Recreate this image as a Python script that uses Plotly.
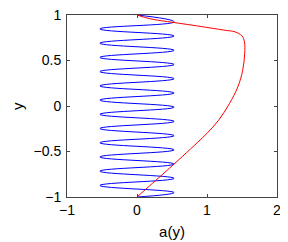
import plotly.graph_objects as go

# Blue oscillating curve (read at its extremes)
blue_y = [1.0, 0.925, 0.847, 0.769, 0.690, 0.612, 0.534, 0.456, 0.378, 0.300, 0.221,
          0.143, 0.065, -0.013, -0.091, -0.169, -0.247, -0.326, -0.404, -0.482,
          -0.560, -0.638, -0.716, -0.795, -0.873, -0.951, -1.0]
blue_x = [0.0, 0.53, -0.53, 0.53, -0.53, 0.53, -0.53, 0.53, -0.53, 0.53, -0.53,
          0.53, -0.53, 0.53, -0.53, 0.53, -0.53, 0.53, -0.53, 0.53,
          -0.53, 0.53, -0.53, 0.53, -0.53, 0.53, 0.0]

# Red curve
red_y = [-1.0, -0.85, -0.70, -0.55, -0.40, -0.30, -0.157, 0.026, 0.209, 0.392,
         0.576, 0.705, 0.770, 0.815, 0.832, 0.887, 0.918, 0.959, 1.0]
red_x = [0.0, 0.22, 0.44, 0.655, 0.865, 1.0, 1.165, 1.32, 1.44, 1.51,
         1.538, 1.535, 1.50, 1.40, 1.26, 0.80, 0.52, 0.185, 0.0]

x_ticks = [-1, 0, 1, 2]
y_ticks = [-1, -0.5, 0, 0.5, 1]

fig = go.Figure()
fig.add_trace(go.Scatter(x=blue_x, y=blue_y, mode="lines",
                         line=dict(color="#0000ff", width=1, shape="spline", smoothing=1.3)))
fig.add_trace(go.Scatter(x=red_x, y=red_y, mode="lines",
                         line=dict(color="#ff0000", width=1, shape="spline", smoothing=1.0)))

axis_common = dict(showgrid=False, zeroline=False, showline=True, linecolor="#444",
                   linewidth=1, mirror="ticks", ticks="inside", ticklen=3,
                   tickcolor="#444", automargin=False, ticklabeloverflow="allow",
                   tickfont=dict(size=14, color="black",
                                 family="Liberation Sans, Arial, sans-serif"))

# page body has an 8px default margin, so the figure is sized/offset to compensate
fig.update_layout(
    width=280, height=234,
    margin=dict(l=59, r=11, t=7, b=45),
    paper_bgcolor="white", plot_bgcolor="white",
    showlegend=False,
    font=dict(family="Liberation Sans, Arial, sans-serif", color="black"),
    xaxis=dict(range=[-1, 2], tickvals=x_ticks, ticktext=["\u22121", "0", "1", "2"],
               title=dict(text="a(y)", font=dict(size=15), standoff=9), **axis_common),
    yaxis=dict(range=[-1, 1], tickvals=y_ticks,
               ticktext=["\u22121", "\u22120.5", "0", "0.5", "1"],
               ticklabelstandoff=2, **axis_common),
    annotations=[dict(text="y", textangle=-90, xref="paper", yref="paper",
                      x=-50 / 210, y=0.5, xanchor="center", yanchor="middle",
                      showarrow=False, font=dict(size=15, color="black"))],
)

fig.write_html("out.html")
